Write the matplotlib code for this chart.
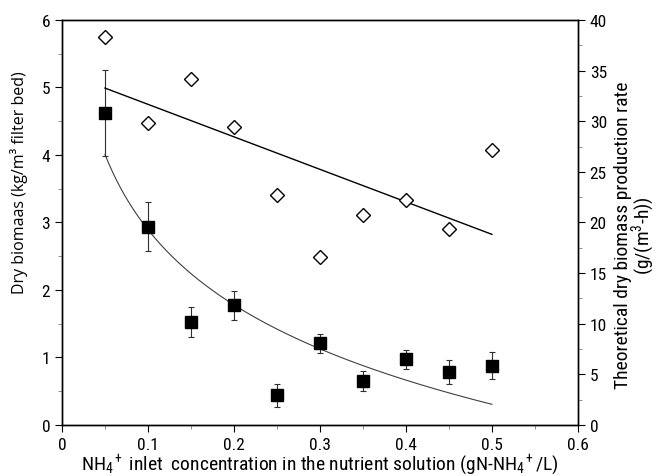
import numpy as np
import matplotlib
matplotlib.use("Agg")
import matplotlib.pyplot as plt
from matplotlib.ticker import MultipleLocator

plt.rcParams['font.family'] = ['Roboto Condensed', 'DejaVu Sans']
plt.rcParams['mathtext.fontset'] = 'custom'
plt.rcParams['mathtext.rm'] = 'Roboto Condensed'
plt.rcParams['mathtext.it'] = 'Roboto Condensed'

# NH4+ inlet concentration (gN-NH4+/L)
conc = [0.05, 0.10, 0.15, 0.20, 0.25, 0.30, 0.35, 0.40, 0.45, 0.50]
# dry biomass (kg/m3 filter bed), left axis
biomass = [4.62, 2.94, 1.53, 1.77, 0.44, 1.21, 0.65, 0.975, 0.78, 0.88]
biomass_err = [0.64, 0.37, 0.22, 0.21, 0.17, 0.14, 0.15, 0.14, 0.18, 0.20]
# theoretical dry biomass production rate (g/(m3-h)), right axis
prod_rate = [38.3, 29.8, 34.2, 29.4, 22.7, 16.6, 20.7, 22.2, 19.4, 27.2]

x = np.array(conc)

fig = plt.figure(figsize=(6.56, 4.77), dpi=100)
ax = fig.add_axes([0.0945, 0.107, 0.7865, 0.849])
ax2 = ax.twinx()

# log trendline on biomass
b, a = np.polyfit(np.log(x), biomass, 1)
xs = np.linspace(x.min(), x.max(), 200)
ax.plot(xs, a + b * np.log(xs), color='#404040', lw=0.8, zorder=2)
ax.errorbar(conc, biomass, yerr=biomass_err, fmt='s', color='black',
            ms=8, ecolor='#303030', elinewidth=0.8, capsize=2, capthick=0.8, zorder=3)

# linear trendline on production rate
m, c = np.polyfit(x, prod_rate, 1)
ax2.plot([x.min(), x.max()], [m * x.min() + c, m * x.max() + c], color='black', lw=1.0)
ax2.plot(conc, prod_rate, 'D', mfc='white', mec='black', mew=1.0, ms=7, ls='none')

ax.set_xlim(0, 0.6)
ax.set_ylim(0, 6)
ax2.set_ylim(0, 40)
ax.xaxis.set_major_locator(MultipleLocator(0.1))
ax.xaxis.set_minor_locator(MultipleLocator(0.05))
ax.yaxis.set_major_locator(MultipleLocator(1))
ax.yaxis.set_minor_locator(MultipleLocator(0.5))
ax2.yaxis.set_major_locator(MultipleLocator(5))
ax2.yaxis.set_minor_locator(MultipleLocator(2.5))
ax.set_xticks(np.arange(0, 0.61, 0.1))
ax.set_xticklabels(['0', '0.1', '0.2', '0.3', '0.4', '0.5', '0.6'])

for a_ in (ax, ax2):
    a_.tick_params(which='major', direction='out', length=5, width=0.8, labelsize=12.5)
    a_.tick_params(which='minor', direction='out', length=3, width=0.6, color='#808080')
    for s in a_.spines.values():
        s.set_linewidth(1.0)

ax.set_xlabel('NH$_4$$^+$ inlet  concentration in the nutrient solution (gN-NH$_4$$^+$/L)',
              fontsize=14, labelpad=0)
ax.set_ylabel('Dry biomaas (kg/m\u00b3 filter bed)', fontsize=11.5,
              family=['Open Sans', 'DejaVu Sans'])
ax.yaxis.set_label_coords(-0.066, 0.6)
ax2.set_ylabel('Theoretical dry biomass production rate\n(g/(m$^3$-h))', fontsize=14,
               linespacing=0.88, ha='center')
ax2.yaxis.set_label_coords(1.07, 0.47)

fig.savefig('out.png', dpi=100)
